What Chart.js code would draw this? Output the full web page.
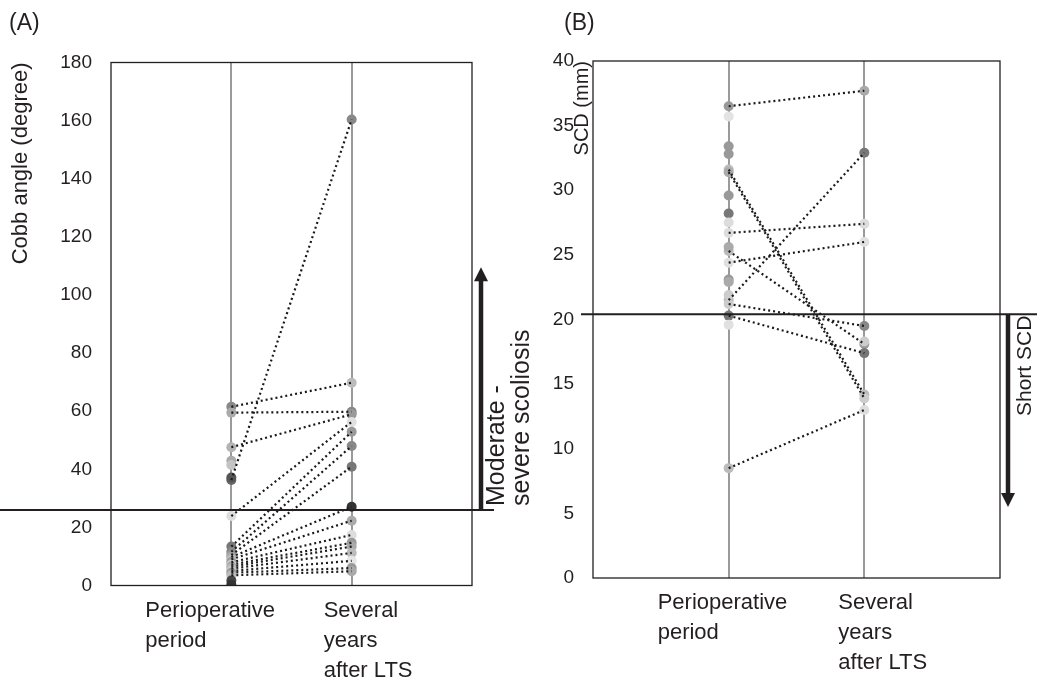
<!DOCTYPE html>
<html>
<head>
<meta charset="utf-8">
<script src="https://cdn.jsdelivr.net/npm/chart.js@4"></script>
<style>
  html, body { margin: 0; padding: 0; background: #fff; }
  .wrap { position: relative; width: 1037px; height: 683px; }
  canvas { position: absolute; left: 0; top: 0; }
</style>
</head>
<body>
<div class="wrap">
  <canvas id="chartA" width="1037" height="683"></canvas>
  <canvas id="chartB" width="1037" height="683"></canvas>
</div>
<script>
// categories (x = 1 and x = 2 on a linear axis)
const periodLabels = [['Perioperative', 'period'], ['Several', 'years', 'after LTS']];

// (A) Cobb angle, one entry per patient; null = not measured
const cobbPeri = [61.5, 59.5, 47.6, 36.3, 23.9, 13.4, 11.6, 10.5, 9.8, 9.0, 8.0, 7.2, 6.5, 5.8, 5.0, 4.4, 3.5, 42.9, 41.5, 37.2, 1.7, 0.3];
const cobbLate = [69.8, 59.8, 58.9, 160.4, 56.3, 52.9, 48.0, 40.9, 27.1, 22.3, 17.4, 14.7, 13.4, 11.2, 8.5, 6.0, 4.9, null, null, null, null, null];
const cobbPeriShade = ['#888', '#aaa', '#b3b3b3', '#666', '#ddd', '#777', '#888', '#999', '#aaa', '#bbb', '#999', '#ccc', '#aaa', '#bbb', '#ccc', '#999', '#bbb', '#aaa', '#c4c4c4', '#555', '#444', '#333'];
const cobbLateShade = ['#bbb', '#888', '#999', '#888', '#e0e0e0', '#999', '#888', '#777', '#333', '#aaa', '#ddd', '#999', '#aaa', '#bbb', '#e6e6e6', '#999', '#aaa', null, null, null, null, null];
const cobbTicks = [0, 20, 40, 60, 80, 100, 120, 140, 160, 180];
const cobbCutoff = 26;

// (B) SCD in mm
const scdPeri = [36.5, 31.6, 31.4, 26.7, 25.3, 24.4, 21.5, 21.2, 20.3, 8.5, 35.7, 33.4, 32.8, 29.6, 28.2, 27.5, 25.6, 23.1, 22.9, 21.9, 19.6, null];
const scdLate = [37.7, 14.2, 13.9, 27.4, 18.1, 26.0, 32.9, 19.5, 17.4, 13.0, null, null, null, null, null, null, null, null, null, null, null, 18.3];
const scdPeriShade = ['#999', '#bbb', '#aaa', '#ddd', '#bbb', '#e0e0e0', '#bbb', '#ccc', '#777', '#bbb', '#e3e3e3', '#999', '#999', '#999', '#777', '#ddd', '#aaa', '#999', '#aaa', '#ccc', '#e0e0e0', null];
const scdLateShade = ['#aaa', '#bbb', '#ccc', '#ddd', '#999', '#e0e0e0', '#777', '#888', '#777', '#ddd', null, null, null, null, null, null, null, null, null, null, null, '#ccc'];
const scdTicks = [0, 5, 10, 15, 20, 25, 30, 35, 40];
const scdCutoff = 20.4;

const FONT = "'Liberation Sans', Arial, sans-serif";
const INK = '#231f20';

const panelDecor = {
  id: 'panelDecor',
  afterDraw(chart, args, o) {
    const { ctx, chartArea: a, scales: { x, y } } = chart;
    ctx.save();
    // frame
    ctx.strokeStyle = INK;
    ctx.lineWidth = 1.3;
    ctx.strokeRect(a.left, a.top, a.right - a.left, a.bottom - a.top);

    // cut-off line
    const ty = y.getPixelForValue(o.cutoff);
    ctx.lineWidth = 2;
    ctx.beginPath();
    ctx.moveTo(o.lineFrom, ty);
    ctx.lineTo(o.lineTo, ty);
    ctx.stroke();

    // arrow
    const tip = y.getPixelForValue(o.arrowTo);
    const dir = tip < ty ? -1 : 1;
    ctx.lineWidth = 4.5;
    ctx.beginPath();
    ctx.moveTo(o.arrowX, ty);
    ctx.lineTo(o.arrowX, tip - dir * 12);
    ctx.stroke();
    ctx.fillStyle = INK;
    ctx.beginPath();
    ctx.moveTo(o.arrowX, tip);
    ctx.lineTo(o.arrowX - 7, tip - dir * 14);
    ctx.lineTo(o.arrowX + 7, tip - dir * 14);
    ctx.closePath();
    ctx.fill();

    // arrow label
    ctx.font = o.noteSize + 'px ' + FONT;
    ctx.textAlign = 'left';
    ctx.textBaseline = 'middle';
    o.note.forEach((line, i) => {
      ctx.save();
      ctx.translate(o.noteX[i], o.noteY);
      ctx.rotate(-Math.PI / 2);
      ctx.fillText(line, 0, 0);
      ctx.restore();
    });

    // category labels
    ctx.font = '22px ' + FONT;
    periodLabels.forEach((lines, i) => {
      const px = x.getPixelForValue(i + 1) + o.catShift[i];
      lines.forEach((t, j) => ctx.fillText(t, px, a.bottom + 25 + j * 30));
    });

    // panel letter
    ctx.font = '23px ' + FONT;
    ctx.fillText(o.letter, o.letterX, 24);
    ctx.restore();
  }
};

function makePanel(id, p) {
  const periPts = [], periCols = [], latePts = [], lateCols = [];
  p.peri.forEach((v, i) => {
    if (v !== null) { periPts.push({ x: 1, y: v }); periCols.push(p.periShade[i]); }
  });
  p.late.forEach((v, i) => {
    if (v !== null) { latePts.push({ x: 2, y: v }); lateCols.push(p.lateShade[i]); }
  });
  const links = [];
  p.peri.forEach((v, i) => {
    if (v === null || p.late[i] === null) return;
    links.push({
      type: 'line',
      data: [{ x: 1, y: v }, { x: 2, y: p.late[i] }],
      borderColor: '#1a1a1a',
      borderWidth: 2.2,
      borderDash: [2, 3],
      pointRadius: 0,
      fill: false,
      order: 1
    });
  });
  const dots = (data, cols) => ({
    type: 'scatter', data, pointRadius: 5, pointBorderWidth: 0,
    pointBackgroundColor: cols, order: 2
  });

  new Chart(document.getElementById(id), {
    type: 'scatter',
    data: { datasets: [dots(periPts, periCols), dots(latePts, lateCols), ...links] },
    options: {
      responsive: false,
      animation: false,
      layout: { padding: p.pad },
      plugins: { legend: { display: false }, tooltip: { enabled: false }, panelDecor: p.decor },
      scales: {
        x: {
          type: 'linear', min: 0, max: 3,
          afterBuildTicks: s => { s.ticks = [{ value: 1 }, { value: 2 }]; },
          afterFit: s => { s.height = 0; },
          ticks: { display: false },
          grid: { color: '#9a9a9a', lineWidth: 2, drawTicks: false },
          border: { display: false }
        },
        y: {
          min: 0, max: p.ticks[p.ticks.length - 1],
          afterBuildTicks: s => { s.ticks = p.ticks.map(v => ({ value: v })); },
          afterFit: s => { s.width = p.axisWidth; },
          ticks: { color: INK, padding: 19, font: { family: FONT, size: 19 } },
          grid: { display: false, drawTicks: false },
          border: { display: false },
          title: {
            display: true, text: p.title, align: 'end', color: INK,
            font: { family: FONT, size: p.titleSize }, padding: { top: p.titlePad, bottom: 0 }
          }
        }
      }
    },
    plugins: [panelDecor]
  });
}

makePanel('chartA', {
  peri: cobbPeri, late: cobbLate, periShade: cobbPeriShade, lateShade: cobbLateShade,
  ticks: cobbTicks, title: 'Cobb angle (degree)', titleSize: 22, titlePad: 8,
  axisWidth: 111, pad: { left: 0, right: 565, top: 62.5, bottom: 97.5 },
  decor: {
    cutoff: cobbCutoff, lineFrom: 0, lineTo: 494, arrowX: 481, arrowTo: 109.5,
    note: ['Moderate -', 'severe scoliosis'], noteX: [497, 522], noteY: 506, noteSize: 25,
    catShift: [-86, -28], letter: '(A)', letterX: 9
  }
});

makePanel('chartB', {
  peri: scdPeri, late: scdLate, periShade: scdPeriShade, lateShade: scdLateShade,
  ticks: scdTicks, title: 'SCD (mm)', titleSize: 20, titlePad: 37,
  axisWidth: 60, pad: { left: 533, right: 37, top: 61, bottom: 105 },
  decor: {
    cutoff: scdCutoff, lineFrom: 581, lineTo: 1037, arrowX: 1008, arrowTo: 5.5,
    note: ['Short SCD'], noteX: [1025], noteY: 416, noteSize: 21,
    catShift: [-71, -26], letter: '(B)', letterX: 564
  }
});
</script>
</body>
</html>
